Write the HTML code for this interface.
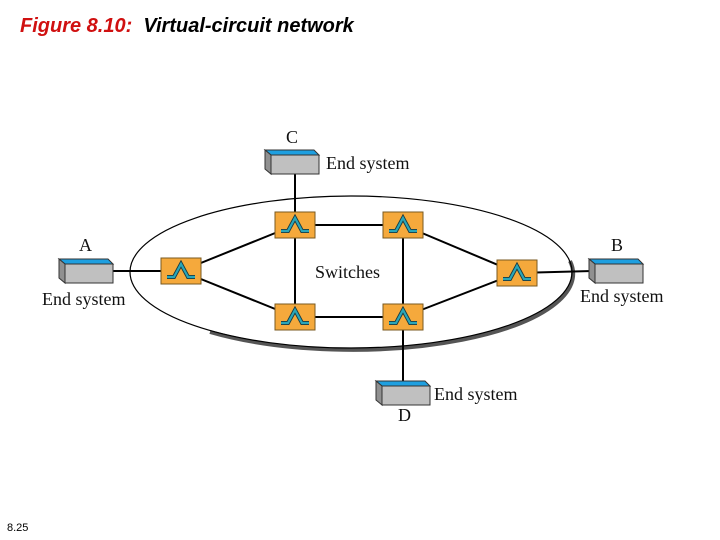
<!DOCTYPE html>
<html><head><meta charset="utf-8"><style>
html,body{margin:0;padding:0;background:#fff;}
body{width:720px;height:540px;position:relative;overflow:hidden;font-family:"Liberation Sans",sans-serif;}
.t{position:absolute;left:20px;top:15px;font-size:20px;font-style:italic;white-space:pre;}
.pg{position:absolute;left:7px;top:522px;font-size:11px;}
svg{position:absolute;left:0;top:0;}
</style></head><body>
<div class="t"><span style="color:#d01010;font-weight:bold">Figure 8.10:</span>  <span style="font-weight:bold;color:#000">Virtual-circuit network</span></div>
<div class="pg">8.25</div>
<svg width="720" height="540" viewBox="0 0 720 540">
<defs>
<g id="sw">
<rect x="-20" y="-13" width="40" height="26" fill="#f5a93c" stroke="#7a5a20" stroke-width="1"/>
<polyline points="-14,6 -7,6 0,-7 7,6 14,6" fill="none" stroke="#1a3a40" stroke-width="4"/>
<polyline points="-14,6 -7,6 0,-7 7,6 14,6" fill="none" stroke="#2aa6b8" stroke-width="2.2"/>
</g>
<g id="es">
<polygon points="0,0 49,0 54,5 6,5" fill="#1e9fe0" stroke="#333" stroke-width="1"/>
<polygon points="6,5 54,5 54,24 6,24" fill="#c0c0c0" stroke="#333" stroke-width="1"/>
<polygon points="0,0 6,5 6,24 0,19" fill="#909090" stroke="#333" stroke-width="1"/>
</g>
</defs>
<path d="M 210 332 A 221 76 0 0 0 570 261" fill="none" stroke="#555" stroke-width="4"/>
<ellipse cx="351" cy="272" rx="221" ry="76" fill="none" stroke="#000" stroke-width="1.2"/>
<g stroke="#000" stroke-width="2" fill="none">
<line x1="113" y1="271" x2="181" y2="271"/>
<line x1="181" y1="271" x2="295" y2="225"/>
<line x1="181" y1="271" x2="295" y2="317"/>
<line x1="295" y1="225" x2="403" y2="225"/>
<line x1="295" y1="317" x2="403" y2="317"/>
<line x1="295" y1="173" x2="295" y2="317"/>
<line x1="403" y1="225" x2="403" y2="381"/>
<line x1="403" y1="225" x2="517" y2="273"/>
<line x1="403" y1="317" x2="517" y2="273"/>
<line x1="517" y1="273" x2="592" y2="271"/>
</g>
<use href="#sw" x="181" y="271"/>
<use href="#sw" x="295" y="225"/>
<use href="#sw" x="403" y="225"/>
<use href="#sw" x="295" y="317"/>
<use href="#sw" x="403" y="317"/>
<use href="#sw" x="517" y="273"/>
<use href="#es" x="59" y="259"/>
<use href="#es" x="265" y="150"/>
<use href="#es" x="589" y="259"/>
<use href="#es" x="376" y="381"/>
<g font-family="Liberation Serif, serif" font-size="18" fill="#111">
<text x="286" y="143">C</text>
<text x="326" y="169">End system</text>
<text x="79" y="251">A</text>
<text x="42" y="305">End system</text>
<text x="611" y="251">B</text>
<text x="580" y="302">End system</text>
<text x="398" y="421">D</text>
<text x="434" y="400">End system</text>
<text x="315" y="278">Switches</text>
</g>
</svg>
</body></html>
